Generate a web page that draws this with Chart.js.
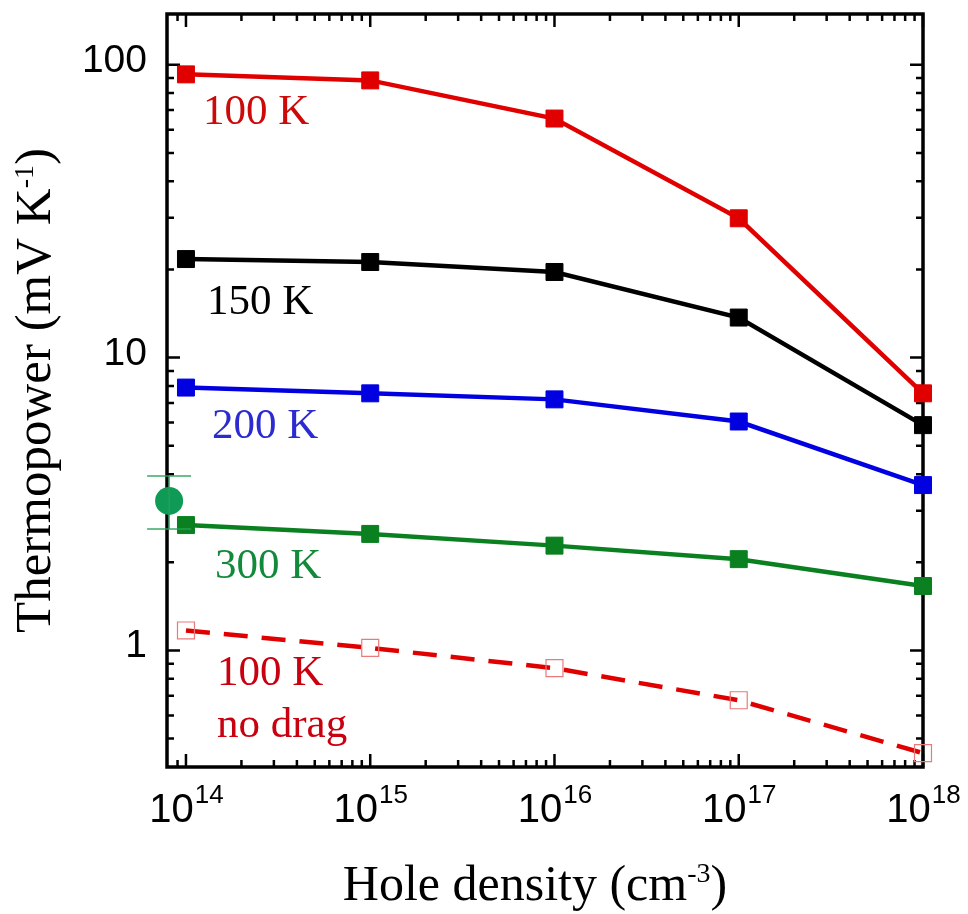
<!DOCTYPE html>
<html>
<head>
<meta charset="utf-8">
<title>Thermopower vs hole density</title>
<script src="https://cdn.jsdelivr.net/npm/chart.js@4.4.1/dist/chart.umd.min.js"></script>
<style>
  html, body { margin: 0; padding: 0; background: #fff; }
  #wrap { width: 968px; height: 914px; }
</style>
</head>
<body>
<div id="wrap"><canvas id="thermoChart" width="968" height="914"></canvas></div>
<script>
// hole densities (cm^-3)
const densities = [1e14, 1e15, 1e16, 1e17, 1e18];

// thermopower (mV/K) per temperature
const s100K = [92.7, 88.4, 65.5, 29.9, 7.55];
const s150K = [21.7, 21.2, 19.6, 13.7, 5.88];
const s200K = [7.9, 7.55, 7.2, 6.05, 3.67];
const s300K = [2.68, 2.50, 2.28, 2.05, 1.66];
const s100KNoDrag = [1.17, 1.02, 0.87, 0.676, 0.446];

// measured point at 300 K with error bar
const measDensity = [8.1e13];
const measValue = [3.24];
const measLow = [2.60];
const measHigh = [3.94];

// axis ranges and labelled ticks
const xMin = 7.89e13, xMax = 1e18;
const yMin = 0.40, yMax = 149;
const xTickExps = [14, 15, 16, 17, 18];
const yTickValues = [1, 10, 100];

function points(values) {
    return values.map((v, i) => ({ x: densities[i], y: v }));
}

// curve labels, drawn next to each curve
const curveLabels = [
    { text: '100 K', color: '#cc0a0a', x: 203, y: 124 },
    { text: '150 K', color: '#000000', x: 207, y: 314 },
    { text: '200 K', color: '#2b2bd0', x: 212, y: 438 },
    { text: '300 K', color: '#138a3a', x: 215, y: 578 },
    { text: '100 K', color: '#c8000f', x: 217, y: 685 },
    { text: 'no drag', color: '#c8000f', x: 217, y: 737 }
];

const SANS = '"Liberation Sans", Arial, sans-serif';
const SERIF = '"Liberation Serif", "Times New Roman", serif';

// minor tick values of a log axis between min and max
function logMinorTicks(min, max) {
    const out = [];
    for (let e = Math.floor(Math.log10(min)); e <= Math.ceil(Math.log10(max)); e++) {
        for (let m = 2; m <= 9; m++) {
            const v = m * Math.pow(10, e);
            if (v > min * 1.03 && v < max * 0.97) out.push(v);
        }
    }
    return out;
}

// frame with inward ticks on all four sides
const framePlugin = {
    id: 'frame',
    beforeDatasetsDraw(chart) {
        const { ctx, chartArea: a, scales: { x, y } } = chart;
        const major = 13, minor = 7;
        ctx.save();
        ctx.strokeStyle = '#000';
        ctx.lineWidth = 2.5;
        ctx.beginPath();
        xTickExps.forEach(e => {
            const px = x.getPixelForValue(Math.pow(10, e));
            ctx.moveTo(px, a.bottom); ctx.lineTo(px, a.bottom - major);
            ctx.moveTo(px, a.top); ctx.lineTo(px, a.top + major);
        });
        logMinorTicks(xMin, xMax).forEach(v => {
            const px = x.getPixelForValue(v);
            ctx.moveTo(px, a.bottom); ctx.lineTo(px, a.bottom - minor);
            ctx.moveTo(px, a.top); ctx.lineTo(px, a.top + minor);
        });
        yTickValues.forEach(v => {
            const py = y.getPixelForValue(v);
            ctx.moveTo(a.left, py); ctx.lineTo(a.left + major, py);
            ctx.moveTo(a.right, py); ctx.lineTo(a.right - major, py);
        });
        logMinorTicks(yMin, yMax).forEach(v => {
            const py = y.getPixelForValue(v);
            ctx.moveTo(a.left, py); ctx.lineTo(a.left + minor, py);
            ctx.moveTo(a.right, py); ctx.lineTo(a.right - minor, py);
        });
        ctx.stroke();
        ctx.lineWidth = 3.5;
        ctx.strokeRect(a.left, a.top, a.right - a.left, a.bottom - a.top);
        ctx.restore();
    },
    afterDatasetsDraw(chart) {
        const { ctx, scales: { x, y } } = chart;
        // error bar on the measured point
        ctx.save();
        ctx.strokeStyle = 'rgba(40,160,90,0.9)';
        ctx.lineWidth = 1.5;
        measDensity.forEach((d, i) => {
            const px = x.getPixelForValue(d);
            const top = y.getPixelForValue(measHigh[i]);
            const bot = y.getPixelForValue(measLow[i]);
            ctx.beginPath();
            ctx.moveTo(px, top); ctx.lineTo(px, bot);
            ctx.moveTo(px - 22, top); ctx.lineTo(px + 22, top);
            ctx.moveTo(px - 22, bot); ctx.lineTo(px + 22, bot);
            ctx.stroke();
        });
        ctx.restore();
    },
    afterDraw(chart) {
        const { ctx, chartArea: a, scales: { x, y } } = chart;
        ctx.save();
        ctx.fillStyle = '#000';

        // y tick labels
        ctx.font = '39px ' + SANS;
        ctx.textAlign = 'right';
        ctx.textBaseline = 'alphabetic';
        yTickValues.forEach(v => {
            ctx.fillText(String(v), 147, y.getPixelForValue(v) + 7);
        });

        // x tick labels as 10 with superscript exponent
        xTickExps.forEach(e => {
            const px = x.getPixelForValue(Math.pow(10, e));
            ctx.font = '40px ' + SANS;
            const wBase = ctx.measureText('10').width;
            ctx.font = '26px ' + SANS;
            const wExp = ctx.measureText(String(e)).width;
            const left = px - (wBase + wExp) / 2;
            ctx.textAlign = 'left';
            ctx.font = '40px ' + SANS;
            ctx.fillText('10', left, 822);
            ctx.font = '26px ' + SANS;
            ctx.fillText(String(e), left + wBase + 1, 803);
        });

        // x axis title
        ctx.font = '50px ' + SERIF;
        const xt1 = 'Hole density (cm', xt2 = '-3', xt3 = ')';
        const w1 = ctx.measureText(xt1).width;
        const w3 = ctx.measureText(xt3).width;
        ctx.font = '28px ' + SERIF;
        const w2 = ctx.measureText(xt2).width;
        let sx = (a.left + a.right) / 2 - 10 - (w1 + w2 + w3) / 2;
        ctx.textAlign = 'left';
        ctx.font = '50px ' + SERIF;
        ctx.fillText(xt1, sx, 900);
        ctx.font = '28px ' + SERIF;
        ctx.fillText(xt2, sx + w1, 882);
        ctx.font = '50px ' + SERIF;
        ctx.fillText(xt3, sx + w1 + w2, 900);

        // y axis title, rotated
        ctx.save();
        ctx.translate(50, (a.top + a.bottom) / 2);
        ctx.rotate(-Math.PI / 2);
        ctx.font = '51px ' + SERIF;
        const yt1 = 'Thermopower (mV K', yt2 = '-1', yt3 = ')';
        const v1 = ctx.measureText(yt1).width;
        const v3 = ctx.measureText(yt3).width;
        ctx.font = '28px ' + SERIF;
        const v2 = ctx.measureText(yt2).width;
        const sy = -(v1 + v2 + v3) / 2;
        ctx.font = '51px ' + SERIF;
        ctx.fillText(yt1, sy, 0);
        ctx.font = '28px ' + SERIF;
        ctx.fillText(yt2, sy + v1, -17);
        ctx.font = '51px ' + SERIF;
        ctx.fillText(yt3, sy + v1 + v2, 0);
        ctx.restore();

        // curve labels
        ctx.font = '43px ' + SERIF;
        ctx.textAlign = 'left';
        curveLabels.forEach(l => {
            ctx.fillStyle = l.color;
            ctx.fillText(l.text, l.x, l.y);
        });
        ctx.restore();
    }
};

function solidSeries(label, values, color) {
    return {
        label: label,
        data: points(values),
        borderColor: color,
        backgroundColor: color,
        borderWidth: 4.5,
        pointStyle: 'rect',
        pointRadius: 12,
        pointBorderWidth: 1,
        pointBorderColor: color,
        pointBackgroundColor: color,
        clip: false
    };
}

const ctx = document.getElementById('thermoChart').getContext('2d');
new Chart(ctx, {
    type: 'line',
    data: {
        datasets: [
            {
                label: '300 K measured',
                data: measDensity.map((d, i) => ({ x: d, y: measValue[i] })),
                showLine: false,
                pointStyle: 'circle',
                pointRadius: 14,
                pointBorderWidth: 0,
                pointBackgroundColor: '#0f9a55',
                borderColor: '#0f9a55',
                clip: false,
                order: 0
            },
            {
                label: '100 K no drag',
                data: points(s100KNoDrag),
                borderColor: '#e00000',
                borderWidth: 4.5,
                borderDash: [24, 14],
                pointStyle: 'rect',
                pointRadius: 12,
                pointBorderWidth: 1.2,
                pointBorderColor: '#ea7a7a',
                pointBackgroundColor: 'rgba(255,255,255,0)',
                clip: false
            },
            solidSeries('300 K', s300K, '#0a8020'),
            solidSeries('200 K', s200K, '#0000e0'),
            solidSeries('150 K', s150K, '#000000'),
            solidSeries('100 K', s100K, '#e00000')
        ]
    },
    options: {
        responsive: false,
        animation: false,
        devicePixelRatio: 1,
        layout: { padding: { left: 167, top: 12, right: 45, bottom: 147 } },
        elements: { line: { tension: 0 } },
        plugins: {
            legend: { display: false },
            tooltip: { enabled: false }
        },
        scales: {
            x: { type: 'logarithmic', min: xMin, max: xMax, display: false },
            y: { type: 'logarithmic', min: yMin, max: yMax, display: false }
        }
    },
    plugins: [framePlugin]
});
</script>
</body>
</html>
